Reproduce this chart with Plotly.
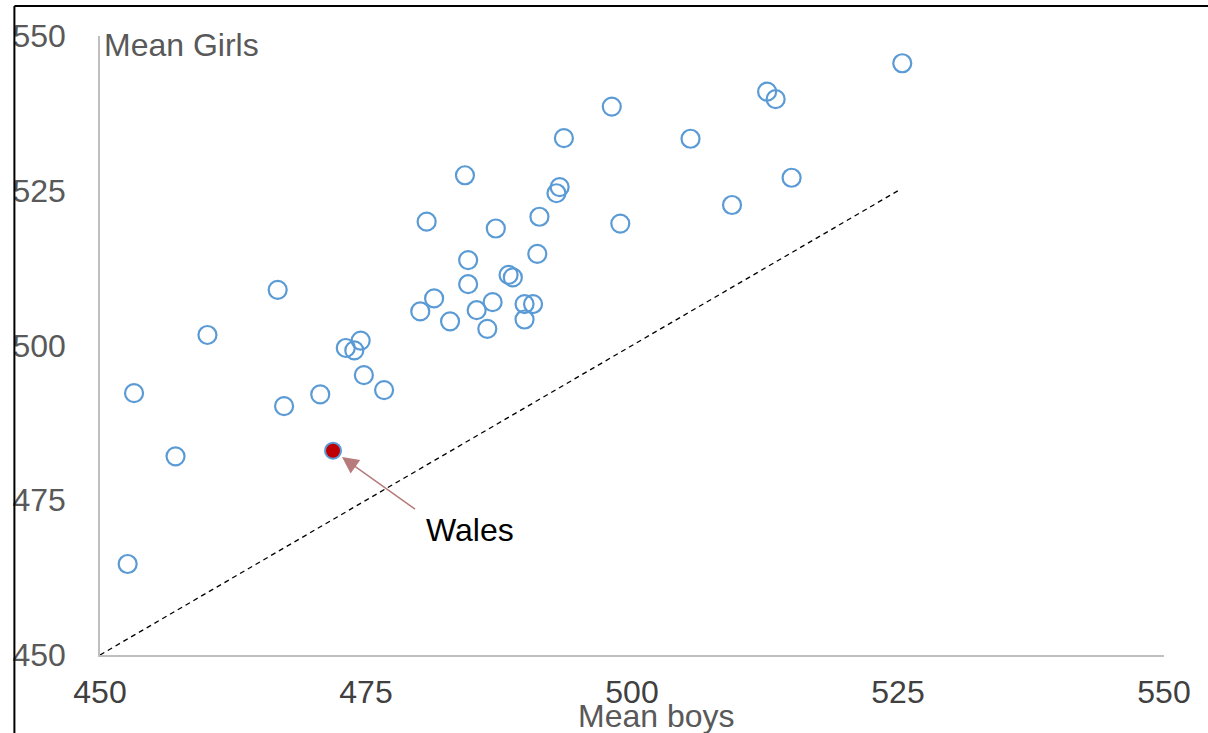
import plotly.graph_objects as go

# Data
boys_means = [525.4, 512.7, 513.5, 498.1, 493.6, 505.5, 484.3, 515.0, 493.2, 492.9,
              509.4, 491.3, 480.7, 498.9, 487.2, 484.6, 491.1, 488.4, 488.8, 484.6,
              466.7, 481.4, 486.9, 489.9, 490.7, 480.1, 485.4, 482.9, 489.9, 486.4,
              460.1, 474.5, 473.1, 473.9, 474.8, 476.7, 453.2, 470.7, 467.3, 457.1,
              452.6]
girls_means = [545.6, 541.0, 539.8, 538.6, 533.5, 533.4, 527.5, 527.1, 525.6, 524.6,
               522.7, 520.8, 520.0, 519.7, 518.9, 513.8, 514.8, 511.4, 511.0, 509.9,
               509.0, 507.6, 507.0, 506.7, 506.7, 505.5, 505.7, 503.9, 504.2, 502.7,
               501.7, 500.8, 499.6, 499.2, 495.2, 492.8, 492.3, 492.1, 490.2, 482.1,
               464.7]
wales_boys = [471.9]
wales_girls = [483.0]
wales_label = "Wales"
parity_x = [450, 525]
parity_y = [450, 525]
x_ticks = [450, 475, 500, 525, 550]
y_ticks = [450, 475, 500, 525, 550]
x_title = "Mean boys"
y_title = "Mean Girls"

FONT = "Arial, Liberation Sans, sans-serif"
BLUE = "#5B9BD5"
FS = 32

fig = go.Figure()
fig.add_trace(go.Scatter(x=parity_x, y=parity_y, mode="lines",
                         line=dict(color="black", width=1.3, dash="5px,4px"),
                         hoverinfo="skip", showlegend=False))
fig.add_trace(go.Scatter(x=boys_means, y=girls_means, mode="markers",
                         marker=dict(symbol="circle-open", size=18, color=BLUE,
                                     line=dict(width=2.2, color=BLUE)),
                         showlegend=False))
fig.add_trace(go.Scatter(x=wales_boys, y=wales_girls, mode="markers",
                         marker=dict(symbol="circle", size=16, color="#C00000",
                                     line=dict(width=2, color=BLUE)),
                         showlegend=False))

fig.update_layout(
    width=1208, height=733,
    margin=dict(l=95, r=44, t=36, b=78),
    paper_bgcolor="white", plot_bgcolor="white",
    font=dict(family=FONT, size=FS, color="#595959"),
    xaxis=dict(range=[450, 550], tickvals=x_ticks, ticktext=[str(v) for v in x_ticks],
               showgrid=False, zeroline=False, showline=True, linecolor="#BFBFBF", linewidth=1.5,
               tickfont=dict(size=FS, color="#404040"), ticks="", ticklabelstandoff=8),
    yaxis=dict(range=[450, 550], tickvals=y_ticks, ticktext=[str(v) for v in y_ticks],
               showgrid=False, zeroline=False, showline=True, linecolor="#BFBFBF", linewidth=1.5,
               tickfont=dict(size=FS, color="#595959"), ticks="", ticklabelstandoff=26),
)

annotations = [
    dict(x=0, y=(655 - 45) / 619, xref="paper", yref="paper", text=y_title,
         showarrow=False, xanchor="left", yanchor="middle", xshift=2,
         font=dict(size=FS, color="#595959")),
    dict(x=(654 - 95) / 1069, y=(655 - 716) / 619, xref="paper", yref="paper", text=x_title,
         showarrow=False, xanchor="center", yanchor="middle", font=dict(size=FS, color="#595959")),
    dict(x=wales_boys[0], y=wales_girls[0], xref="x", yref="y", text="",
         showarrow=True, axref="x", ayref="y", ax=479.75, ay=473.4,
         arrowhead=2, arrowsize=2.2, arrowwidth=1.5, arrowcolor="#B77B7B", standoff=11),
    dict(x=484.8, y=470.2, xref="x", yref="y", text=wales_label, showarrow=False,
         xanchor="center", yanchor="middle", font=dict(size=FS, color="black")),
]
fig.update_layout(annotations=annotations)

# frame lines (top and left edges of the original chart border)
fig.add_shape(type="line", xref="paper", yref="paper", x0=(9 - 95) / 1069, x1=(1210 - 95) / 1069,
              y0=(655 - 6) / 619, y1=(655 - 6) / 619, line=dict(color="black", width=2),
              layer="above")
fig.add_shape(type="line", xref="paper", yref="paper", x0=(9 - 95) / 1069, x1=(9 - 95) / 1069,
              y0=(655 - 6) / 619, y1=(655 - 735) / 619, line=dict(color="black", width=2),
              layer="above")

fig.write_html("out.html", config={"displayModeBar": False},
               post_script="document.body.style.margin='0';document.body.style.overflow='hidden';")
